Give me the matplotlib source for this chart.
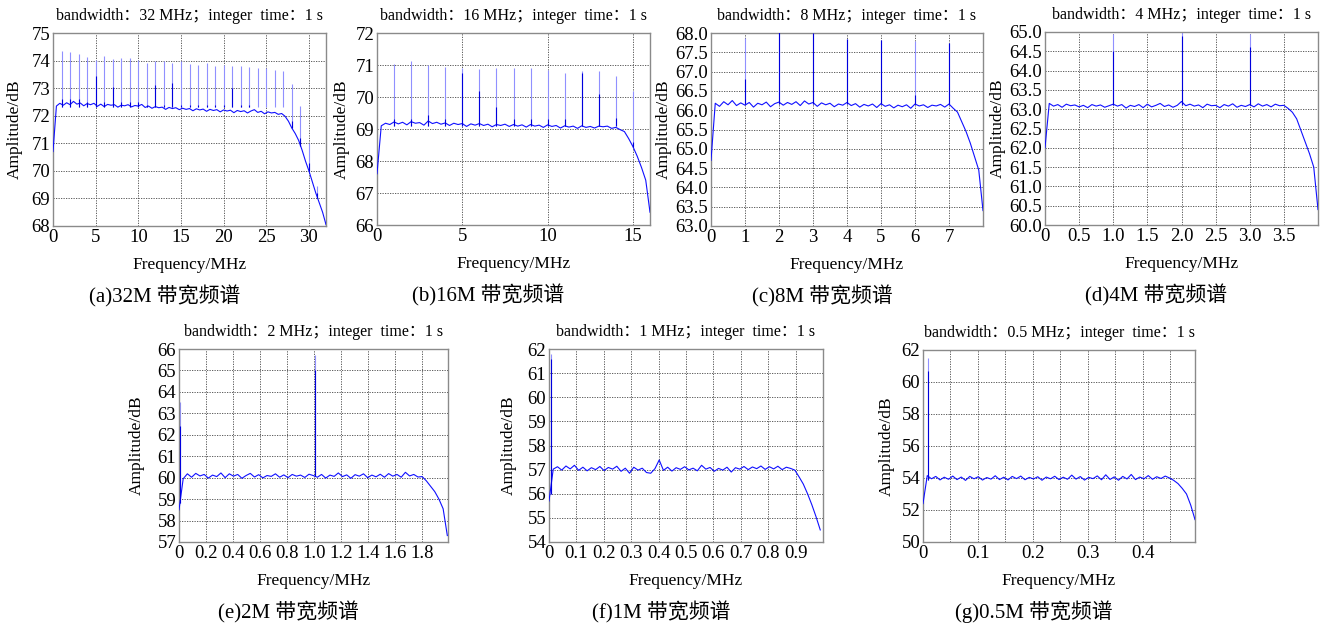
import numpy as np
import matplotlib
matplotlib.use('Agg')
import matplotlib.pyplot as plt

plt.rcParams['font.family'] = ['Liberation Serif', 'Noto Sans CJK SC']

W, H = 1336, 628

# ---- data ----
# (a) 32 MHz
amp_a = [70.70, 72.35, 72.45, 72.38, 72.47, 72.40, 72.52, 72.42, 72.46, 72.36,
         72.44, 72.40, 72.45, 72.34, 72.42, 72.33, 72.41, 72.38, 72.40, 72.31,
         72.38, 72.36, 72.40, 72.32, 72.37, 72.35, 72.41, 72.30, 72.35, 72.27,
         72.33, 72.29, 72.31, 72.23, 72.30, 72.26, 72.29, 72.22, 72.27, 72.23,
         72.26, 72.18, 72.25, 72.21, 72.24, 72.16, 72.23, 72.19, 72.22, 72.14,
         72.21, 72.17, 72.20, 72.11, 72.19, 72.15, 72.18, 72.10, 72.17, 72.22,
         72.12, 72.16, 72.07, 72.14, 72.10, 72.12, 72.05, 72.08, 71.98, 71.80,
         71.55, 71.35, 71.10, 70.75, 70.35, 70.00, 69.60, 69.20, 68.85, 68.50,
         68.05]
spike_f_a = [1, 2, 3, 4, 5, 6, 7, 8, 9, 10, 11, 12, 13, 14, 15, 16,
             17, 18, 19, 20, 21, 22, 23, 24, 25, 26, 27, 28, 29, 30, 31]
spike_top_a = [74.33, 74.30, 74.24, 74.12, 74.03, 74.15, 74.07, 74.09, 74.09, 74.03,
               73.91, 74.00, 73.97, 73.91, 73.97, 73.88, 73.85, 73.91, 73.82, 73.85,
               73.79, 73.81, 73.75, 73.73, 73.72, 73.67, 73.61, 73.16, 72.37, 71.00,
               69.45]
spike_dark_a = [72.6, 72.6, 72.6, 72.5, 73.43, 72.5, 73.04, 72.5, 72.5, 72.5,
                72.4, 73.12, 72.4, 73.18, 72.4, 72.4, 72.4, 72.4, 72.4, 72.4,
                73.00, 72.4, 72.4, 72.3, 72.3, 72.3, 72.3, 71.8, 71.2, 70.3,
                69.2]
spike_base_a = [72.3] * 27 + [71.55, 70.9, 70.0, 69.0]

# (b) 16 MHz
amp_b = [67.60, 69.10, 69.18, 69.14, 69.22, 69.16, 69.21, 69.13, 69.23, 69.18,
         69.20, 69.12, 69.25, 69.17, 69.21, 69.15, 69.19, 69.11, 69.18, 69.14,
         69.17, 69.08, 69.16, 69.12, 69.17, 69.11, 69.15, 69.07, 69.14, 69.11,
         69.15, 69.08, 69.14, 69.09, 69.13, 69.06, 69.14, 69.09, 69.12, 69.05,
         69.13, 69.08, 69.11, 69.03, 69.10, 69.06, 69.09, 69.02, 69.10, 69.05,
         69.08, 69.03, 69.09, 69.07, 69.09, 69.02, 69.05, 68.98, 68.92, 68.70,
         68.45, 68.15, 67.80, 67.40, 66.40]
spike_f_b = [1, 2, 3, 4, 5, 6, 7, 8, 9, 10, 11, 12, 13, 14, 15]
spike_top_b = [71.03, 71.12, 71.00, 70.93, 70.90, 70.88, 70.90, 70.90, 70.90, 70.85,
               70.75, 70.80, 70.80, 70.66, 70.20]
spike_dark_b = [69.3, 69.3, 69.45, 69.3, 70.75, 70.20, 69.70, 69.3, 69.3, 69.3,
                69.3, 70.75, 70.10, 69.35, 68.6]
spike_base_b = [69.1] * 14 + [68.45]

# (c) 8 MHz
amp_c = [64.70, 66.18, 66.10, 66.22, 66.14, 66.25, 66.12, 66.19, 66.13, 66.20,
         66.08, 66.18, 66.14, 66.21, 66.09, 66.17, 66.21, 66.13, 66.20, 66.15,
         66.22, 66.12, 66.24, 66.16, 66.20, 66.10, 66.19, 66.14, 66.18, 66.09,
         66.16, 66.13, 66.20, 66.12, 66.17, 66.08, 66.15, 66.11, 66.16, 66.07,
         66.17, 66.10, 66.14, 66.06, 66.13, 66.09, 66.14, 66.05, 66.16, 66.11,
         66.14, 66.07, 66.13, 66.11, 66.15, 66.08, 66.16, 66.05, 65.95, 65.70,
         65.45, 65.15, 64.80, 64.45, 63.40]
spike_f_c = [1, 2, 3, 4, 5, 6, 7]
spike_top_c = [67.87, 68.05, 68.05, 67.85, 67.83, 67.78, 67.74]
spike_dark_c = [66.80, 68.05, 68.00, 67.85, 67.83, 66.40, 67.74]
spike_base_c = [66.15] * 7

# (d) 4 MHz
amp_d = [62.00, 63.15, 63.08, 63.12, 63.05, 63.13, 63.09, 63.11, 63.06, 63.10,
         63.04, 63.12, 63.08, 63.11, 63.05, 63.09, 63.13, 63.08, 63.12, 63.03,
         63.10, 63.07, 63.12, 63.04, 63.13, 63.06, 63.10, 63.15, 63.07, 63.11,
         63.05, 63.10, 63.20, 63.09, 63.13, 63.08, 63.11, 63.04, 63.13, 63.09,
         63.10, 63.04, 63.12, 63.08, 63.14, 63.05, 63.10, 63.07, 63.12, 63.06,
         63.14, 63.08, 63.12, 63.06, 63.13, 63.09, 63.10, 63.02, 62.92, 62.75,
         62.45, 62.15, 61.85, 61.50, 60.40]
spike_f_d = [1, 2, 3]
spike_top_d = [64.95, 65.00, 64.95]
spike_dark_d = [64.50, 64.90, 64.60]
spike_base_d = [63.1] * 3

# (e) 2 MHz
amp_e = [58.50, 59.95, 60.18, 60.02, 60.20, 60.08, 60.15, 59.98, 60.12, 60.05,
         60.22, 60.00, 60.18, 60.07, 60.15, 59.97, 60.10, 60.20, 60.03, 60.14,
         59.99, 60.10, 60.06, 60.18, 60.02, 60.13, 60.00, 60.15, 60.07, 60.12,
         60.01, 60.16, 60.10, 60.02, 60.15, 59.98, 60.12, 60.06, 60.22, 60.05,
         60.13, 59.97, 60.14, 60.07, 60.18, 60.00, 60.12, 60.04, 60.16, 60.02,
         60.19, 60.07, 60.15, 60.02, 60.25, 60.08, 60.15, 60.03, 60.05, 59.85,
         59.60, 59.35, 59.00, 58.55, 57.30]
spike_f_e = [0.005, 1.005]
spike_top_e = [63.55, 65.70]
spike_dark_e = [62.40, 65.00]
spike_base_e = [58.8, 60.1]

# (f) 1 MHz
amp_f = [55.70, 57.02, 57.12, 56.98, 57.15, 57.03, 57.18, 56.97, 57.10, 56.95,
         57.08, 57.00, 57.13, 56.96, 57.09, 57.02, 57.14, 56.93, 57.06, 56.85,
         57.10, 56.98, 57.06, 56.88, 56.85, 57.04, 57.40, 56.97, 57.10, 56.94,
         57.08, 57.01, 57.12, 56.99, 57.06, 56.95, 57.18, 57.02, 57.09, 56.93,
         57.05, 56.98, 57.10, 56.90, 57.08, 57.02, 57.13, 57.00, 57.11, 57.04,
         57.15, 57.01, 57.12, 57.03, 57.14, 57.00, 57.10, 57.05, 56.98, 56.70,
         56.40, 56.00, 55.55, 55.05, 54.50]
spike_f_f = [0.008]
spike_top_f = [61.80]
spike_dark_f = [61.60]
spike_base_f = [56.0]

# (g) 0.5 MHz
amp_g = [52.40, 54.15, 53.95, 54.10, 53.88, 54.05, 53.92, 54.12, 53.90, 54.06,
         53.85, 54.10, 53.95, 54.08, 53.87, 54.03, 53.93, 54.14, 53.90, 54.05,
         53.88, 54.10, 53.96, 54.12, 53.89, 54.04, 53.94, 54.08, 53.86, 54.06,
         53.95, 54.11, 53.90, 54.05, 53.92, 54.18, 53.93, 54.09, 53.87, 54.04,
         53.96, 54.13, 53.89, 54.20, 53.91, 54.07, 53.86, 54.10, 53.94, 54.22,
         53.90, 54.06, 53.95, 54.15, 53.92, 54.08, 53.97, 54.12, 54.00, 53.85,
         53.65, 53.35, 53.00, 52.30, 51.40]
spike_f_g = [0.009]
spike_top_g = [61.50]
spike_dark_g = [60.70]
spike_base_g = [53.9]

# frequency span of each trace, MHz
fmax = [32, 16, 8, 4, 1.99, 0.99, 0.495]

titles = ['bandwidth：32 MHz；integer  time：1 s',
          'bandwidth：16 MHz；integer  time：1 s',
          'bandwidth：8 MHz；integer  time：1 s',
          'bandwidth：4 MHz；integer  time：1 s',
          'bandwidth：2 MHz；integer  time：1 s',
          'bandwidth：1 MHz；integer  time：1 s',
          'bandwidth：0.5 MHz；integer  time：1 s']
captions = ['(a)32M 带宽频谱', '(b)16M 带宽频谱', '(c)8M 带宽频谱', '(d)4M 带宽频谱',
            '(e)2M 带宽频谱', '(f)1M 带宽频谱', '(g)0.5M 带宽频谱']

ylims = [(68, 75), (66, 72), (63, 68), (60, 65), (57, 66), (54, 62), (50, 62)]
xlims = [(0, 32), (0, 16), (0, 8), (0, 4), (0, 1.995), (0, 1.0), (0, 0.495)]

xticks = [[0, 5, 10, 15, 20, 25, 30],
          [0, 5, 10, 15],
          [0, 1, 2, 3, 4, 5, 6, 7],
          [0, 0.5, 1, 1.5, 2, 2.5, 3, 3.5],
          [0, 0.2, 0.4, 0.6, 0.8, 1.0, 1.2, 1.4, 1.6, 1.8],
          [0, 0.1, 0.2, 0.3, 0.4, 0.5, 0.6, 0.7, 0.8, 0.9],
          [0, 0.1, 0.2, 0.3, 0.4]]
xticklabels = [['0', '5', '10', '15', '20', '25', '30'],
               ['0', '5', '10', '15'],
               ['0', '1', '2', '3', '4', '5', '6', '7'],
               ['0', '0.5', '1.0', '1.5', '2.0', '2.5', '3.0', '3.5'],
               ['0', '0.2', '0.4', '0.6', '0.8', '1.0', '1.2', '1.4', '1.6', '1.8'],
               ['0', '0.1', '0.2', '0.3', '0.4', '0.5', '0.6', '0.7', '0.8', '0.9'],
               ['0', '0.1', '0.2', '0.3', '0.4']]
xgrid = [[5, 10, 15, 20, 25, 30],
         [5, 10, 15],
         [1, 2, 3, 4, 5, 6, 7],
         [0.5, 1, 1.5, 2, 2.5, 3, 3.5],
         [0.2, 0.4, 0.6, 0.8, 1.0, 1.2, 1.4, 1.6, 1.8],
         [0.1, 0.2, 0.3, 0.4, 0.5, 0.6, 0.7, 0.8, 0.9],
         [0.05, 0.1, 0.15, 0.2, 0.25, 0.3, 0.35, 0.4, 0.45]]
yticks = [[68, 69, 70, 71, 72, 73, 74, 75],
          [66, 67, 68, 69, 70, 71, 72],
          [63, 63.5, 64, 64.5, 65, 65.5, 66, 66.5, 67, 67.5, 68],
          [60, 60.5, 61, 61.5, 62, 62.5, 63, 63.5, 64, 64.5, 65],
          [57, 58, 59, 60, 61, 62, 63, 64, 65, 66],
          [54, 55, 56, 57, 58, 59, 60, 61, 62],
          [50, 52, 54, 56, 58, 60, 62]]
ydecimals = [0, 0, 1, 1, 0, 0, 0]

amps = [amp_a, amp_b, amp_c, amp_d, amp_e, amp_f, amp_g]
spikes = [(spike_f_a, spike_base_a, spike_top_a, spike_dark_a),
          (spike_f_b, spike_base_b, spike_top_b, spike_dark_b),
          (spike_f_c, spike_base_c, spike_top_c, spike_dark_c),
          (spike_f_d, spike_base_d, spike_top_d, spike_dark_d),
          (spike_f_e, spike_base_e, spike_top_e, spike_dark_e),
          (spike_f_f, spike_base_f, spike_top_f, spike_dark_f),
          (spike_f_g, spike_base_g, spike_top_g, spike_dark_g)]

# axes boxes in pixels: left, top, right, bottom
boxes = [(53, 33, 326, 226), (377, 33, 650, 225), (711, 33, 983, 226),
         (1045, 32, 1318, 225), (179, 349, 448, 542), (549, 349, 823, 542),
         (923, 350, 1195, 542)]
# distance from the axes' left edge to the right side of the y label, px
ylab_off = [30, 27, 39, 39, 34, 32, 28]

fig = plt.figure(figsize=(W / 100, H / 100), dpi=100)

for i in range(7):
    l, t, r, b = boxes[i]
    ax = fig.add_axes([l / W, 1 - b / H, (r - l) / W, (b - t) / H])
    f = np.linspace(0, fmax[i], len(amps[i]))
    ax.plot(f, amps[i], color='#1010ff', lw=0.8, zorder=3)
    sf, sb, st, sd = spikes[i]
    ax.vlines(sf, sb, st, color='#9090ff', lw=0.8, zorder=2)
    ax.vlines(sf, sb, sd, color='#0000dd', lw=0.8, zorder=4)

    ax.set_xlim(*xlims[i])
    ax.set_ylim(*ylims[i])
    ax.set_xticks(xticks[i])
    ax.set_xticklabels(xticklabels[i])
    ax.set_yticks(yticks[i])
    ax.set_yticklabels([f'{v:.{ydecimals[i]}f}' for v in yticks[i]])
    ax.tick_params(length=0, labelsize=13.5, pad=2)
    for v in xgrid[i]:
        ax.axvline(v, color='#444444', lw=0.6, ls=(0, (1.5, 1.5)), zorder=1)
    for v in yticks[i][1:-1]:
        ax.axhline(v, color='#444444', lw=0.6, ls=(0, (1.5, 1.5)), zorder=1)
    for s in ax.spines.values():
        s.set_color('#8a8a8a')
        s.set_linewidth(1.0)

    ax.set_ylabel('Amplitude/dB', fontsize=12.5)
    ax.yaxis.set_label_coords(-ylab_off[i] / (r - l), 0.5)
    ax.set_xlabel('Frequency/MHz', fontsize=12.5)
    ax.xaxis.set_label_coords(0.5, -31 / (b - t))

    cx = (l + r) / 2
    fig.text(cx / W, 1 - (t - 17) / H, titles[i], ha='center', va='center',
             fontsize=11.5)
    fig.text((cx - 25) / W, 1 - (b + 70) / H, captions[i], ha='center',
             va='center', fontsize=15)

fig.savefig('out.png', dpi=100, facecolor='white')
